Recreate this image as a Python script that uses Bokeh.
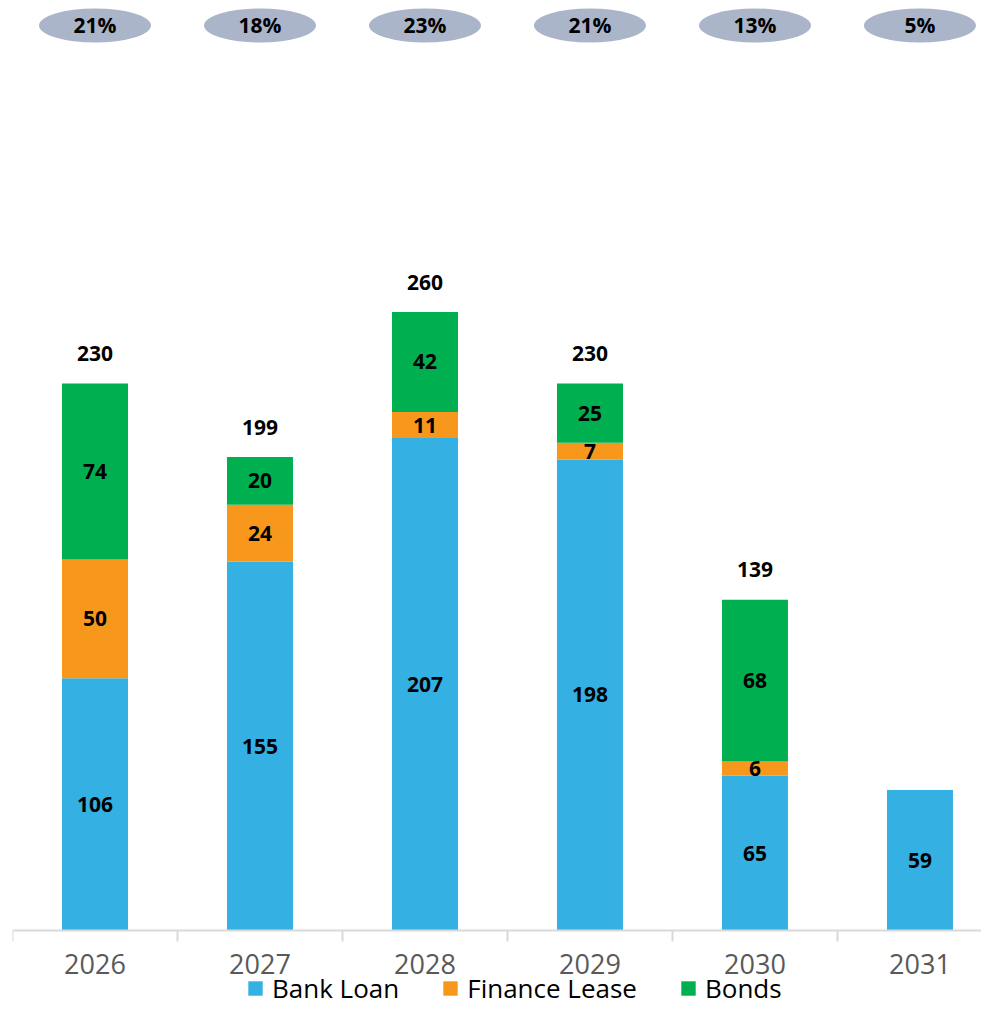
import numpy as np
from bokeh.plotting import figure
from bokeh.models import ColumnDataSource, Range1d, FixedTicker, Legend, LegendItem
from bokeh.core.properties import value
from bokeh.embed import file_html
from bokeh.resources import INLINE

# ---- data ----
years = ["2026", "2027", "2028", "2029", "2030", "2031"]
bank_loan = [106, 155, 207, 198, 65, 59]
finance_lease = [50, 24, 11, 7, 6, 0]
bonds = [74, 20, 42, 25, 68, 0]
total_labels = ["230", "199", "260", "230", "139", ""]
shares = ["21%", "18%", "23%", "21%", "13%", "5%"]

# ---- style ----
FONT = "Open Sans"
C_BANK = "#35B0E2"
C_LEASE = "#F7981D"
C_BONDS = "#00B050"
C_BUBBLE = "#ABB5C9"
BUBBLE_Y = 380.5

x = np.arange(len(years))
bl = np.array(bank_loan, dtype=float)
fl = np.array(finance_lease, dtype=float)
bd = np.array(bonds, dtype=float)

p = figure(frame_width=969, frame_height=1006, output_backend="svg", toolbar_location=None,
           x_range=Range1d(-0.5, 5.373), y_range=Range1d(-32, 391),
           y_axis_location=None, min_border_top=0, min_border_left=12,
           min_border_right=0, min_border_bottom=0)
p.outline_line_color = None
p.grid.visible = False
p.background_fill_color = "white"

r_bank = p.vbar(x=x, bottom=0, top=bl, width=0.4, fill_color=C_BANK, line_color=None)
r_lease = p.vbar(x=x, bottom=bl, top=bl + fl, width=0.4, fill_color=C_LEASE, line_color=None)
r_bonds = p.vbar(x=x, bottom=bl + fl, top=bl + fl + bd, width=0.4, fill_color=C_BONDS, line_color=None)

# segment labels
def seg_src(bottom, vals):
    mask = vals > 0
    return ColumnDataSource(dict(x=x[mask], y=(bottom + vals / 2)[mask],
                                 t=[str(int(v)) for v in vals[mask]]))

for src in (seg_src(np.zeros_like(bl), bl), seg_src(bl, fl), seg_src(bl + fl, bd)):
    p.text(x="x", y="y", text="t", source=src, text_align="center", text_baseline="middle",
           text_font=value(FONT), text_font_style="bold", text_font_size="21px",
           text_color="black")

# totals
tot_src = ColumnDataSource(dict(x=x, y=bl + fl + bd, t=total_labels))
p.text(x="x", y="y", text="t", source=tot_src, text_align="center", text_baseline="middle",
       y_offset=-30, text_font=value(FONT), text_font_style="bold", text_font_size="21px",
       text_color="black")

# share bubbles
b_src = ColumnDataSource(dict(x=x, y=[BUBBLE_Y] * len(x), t=shares))
p.ellipse(x="x", y="y", width=112, height=34, width_units="screen", height_units="screen",
          source=b_src, fill_color=C_BUBBLE, line_color=None)
p.text(x="x", y="y", text="t", source=b_src, text_align="center", text_baseline="middle",
       text_font=value(FONT), text_font_style="bold", text_font_size="21px", text_color="black")

# x axis at y = 0
ax = p.xaxis[0]
ax.fixed_location = 0
ax.ticker = FixedTicker(ticks=list(range(len(years))),
                        minor_ticks=[i - 0.5 for i in range(len(years) + 1)])
ax.major_label_overrides = {i: y for i, y in enumerate(years)}
ax.major_tick_out = 0
ax.major_tick_in = 0
ax.minor_tick_out = 11
ax.minor_tick_in = 0
ax.minor_tick_line_color = "#D9D9D9"
ax.minor_tick_line_width = 2
ax.axis_line_color = "#D9D9D9"
ax.axis_line_width = 2
ax.major_label_standoff = 13
ax.major_label_text_font = FONT
ax.major_label_text_font_size = "27px"
ax.major_label_text_color = "#595959"

legend = Legend(items=[LegendItem(label="Bank Loan", renderers=[r_bank]),
                       LegendItem(label="Finance Lease", renderers=[r_lease]),
                       LegendItem(label="Bonds", renderers=[r_bonds])],
                orientation="horizontal", location=(234, 0),
                glyph_width=18, glyph_height=18, label_text_font=FONT,
                label_text_font_size="26px", label_text_color="black",
                label_standoff=8, spacing=42, padding=0, margin=0,
                border_line_color=None, background_fill_alpha=0)
p.add_layout(legend, "center")

open("out.html", "w").write(file_html(p, INLINE))
